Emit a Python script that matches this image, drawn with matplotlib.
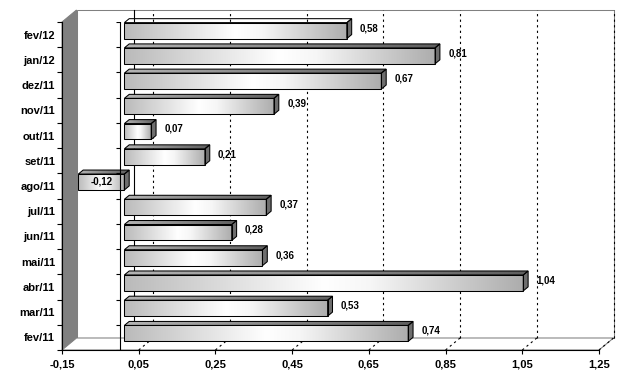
import matplotlib
matplotlib.use('Agg')
import matplotlib.pyplot as plt
import numpy as np
from matplotlib.patches import Polygon, Rectangle
from matplotlib.colors import LinearSegmentedColormap

months = ['fev/11', 'mar/11', 'abr/11', 'mai/11', 'jun/11', 'jul/11', 'ago/11',
          'set/11', 'out/11', 'nov/11', 'dez/11', 'jan/12', 'fev/12']
values = [0.74, 0.53, 1.04, 0.36, 0.28, 0.37, -0.12, 0.21, 0.07, 0.39, 0.67, 0.81, 0.58]
xticks = [-0.15, 0.05, 0.25, 0.45, 0.65, 0.85, 1.05, 1.25]
xlabels = ['-0,15', '0,05', '0,25', '0,45', '0,65', '0,85', '1,05', '1,25']

plt.rcParams['font.family'] = ['Liberation Sans', 'DejaVu Sans']
plt.rcParams['font.weight'] = 'bold'

W, H = 636, 382
fig = plt.figure(figsize=(W / 100, H / 100), dpi=100)
# front plane of the 3d box
L, B, PW, PH = 62, 32, 537, 328
ax = fig.add_axes([L / W, B / H, PW / W, PH / H])
X0, X1 = xticks[0], xticks[-1]
Y0, Y1 = -0.5, len(months) - 0.5
ax.set_xlim(X0, X1)
ax.set_ylim(Y0, Y1)
ax.patch.set_visible(False)

ppx = PW / (X1 - X0)
ppy = PH / (Y1 - Y0)
ddx = 14.5 / ppx   # depth offset in data units
ddy = 12 / ppy

grey = '#808080'
lw = 0.75

# walls and floor
ax.add_patch(Rectangle((X0 + ddx, Y0 + ddy), X1 - X0, Y1 - Y0, fc='white', ec=grey,
                       lw=lw, clip_on=False, zorder=0.5))
ax.add_patch(Polygon([(X0, Y0), (X0, Y1), (X0 + ddx, Y1 + ddy), (X0 + ddx, Y0 + ddy)],
                     closed=True, fc=grey, ec=grey, lw=lw, clip_on=False, zorder=1))
ax.add_patch(Polygon([(X0, Y0), (X1, Y0), (X1 + ddx, Y0 + ddy), (X0 + ddx, Y0 + ddy)],
                     closed=True, fc='white', ec=grey, lw=lw, clip_on=False, zorder=1))

# dotted gridlines on back wall and floor
for x in xticks[1:]:
    ax.plot([x + ddx, x + ddx], [Y0 + ddy, Y1 + ddy], color='black', lw=0.8,
            ls=(0, (2, 3)), clip_on=False, zorder=1.5)
    ax.plot([x, x + ddx], [Y0, Y0 + ddy], color='black', lw=0.8,
            ls=(0, (2, 3)), clip_on=False, zorder=1.5)

# zero line on the back wall
ax.plot([ddx, ddx], [Y0 + ddy, Y1 + ddy], color='black', lw=0.8, clip_on=False, zorder=1.6)

front_cmap = LinearSegmentedColormap.from_list(
    'front', [(0, '#bababa'), (0.5, '#ffffff'), (0.62, '#f6f6f6'), (1, '#adadad')])
top_cmap = LinearSegmentedColormap.from_list('top', ['#b4b4b4', '#5e5e5e'])
grad = np.linspace(0, 1, 256).reshape(1, -1)

f1, f2 = 1 / 3, 2 / 3
bh = 0.63
for i in range(len(values) - 1, -1, -1):
    v = values[i]
    lo, hi = min(v, 0), max(v, 0)
    z = 3 + (len(values) - i) * 0.1
    x0, x1 = lo + f1 * ddx, hi + f1 * ddx
    y0, y1 = i - bh / 2 + f1 * ddy, i + bh / 2 + f1 * ddy
    sx, sy = (f2 - f1) * ddx, (f2 - f1) * ddy

    # front face
    ax.imshow(grad, cmap=front_cmap, extent=(x0, x1, y0, y1), aspect='auto',
              interpolation='bilinear', zorder=z)
    ax.add_patch(Rectangle((x0, y0), x1 - x0, y1 - y0, fc='none', ec='black',
                           lw=lw, zorder=z + 0.03, clip_on=False))
    # top face
    top = Polygon([(x0, y1), (x1, y1), (x1 + sx, y1 + sy), (x0 + sx, y1 + sy)],
                  closed=True, fc='none', ec='black', lw=lw, zorder=z + 0.03, clip_on=False)
    ax.add_patch(top)
    im = ax.imshow(grad, cmap=top_cmap, extent=(x0, x1 + sx, y1, y1 + sy), aspect='auto',
                   interpolation='bilinear', zorder=z + 0.01)
    im.set_clip_path(top)
    im.set_clip_box(None)
    # side face
    ax.add_patch(Polygon([(x1, y0), (x1 + sx, y0 + sy), (x1 + sx, y1 + sy), (x1, y1)],
                         closed=True, fc='#6e6e6e', ec='black', lw=lw, zorder=z + 0.02,
                         clip_on=False))

    txt = '{:.2f}'.format(v).replace('.', ',')
    if v < 0:
        ax.text((x0 + x1) / 2, (y0 + y1) / 2, txt, ha='center', va='center',
                fontsize=7, zorder=z + 0.05)
    else:
        ax.text(v + 18 / ppx, i + 0.55 * ddy, txt, ha='left', va='center',
                fontsize=7, zorder=z + 0.05, clip_on=False)

ax.set_xlim(X0, X1)
ax.set_ylim(Y0, Y1)

# category axis crossing at zero
ax.plot([0, 0], [Y0, Y1], color='black', lw=0.8, zorder=10)
ax.hlines(np.arange(Y0, Y1 + 0.1, 1), -4 / ppx, 0, colors='black', lw=0.8, zorder=10)

for s in ['top', 'right']:
    ax.spines[s].set_visible(False)
for s in ['left', 'bottom']:
    ax.spines[s].set_linewidth(0.8)
    ax.spines[s].set_color('black')

ax.set_yticks(range(len(months)), labels=months)
ax.set_yticks(np.arange(Y0, Y1 + 0.1, 1), minor=True)
ax.tick_params(axis='y', which='major', length=0, pad=5, labelsize=8)
ax.tick_params(axis='y', which='minor', length=3.6, width=0.8, direction='out')
ax.set_xticks(xticks, labels=xlabels)
ax.tick_params(axis='x', which='major', length=3, width=0.8, pad=4, labelsize=8)

fig.savefig('out.png', dpi=100)
